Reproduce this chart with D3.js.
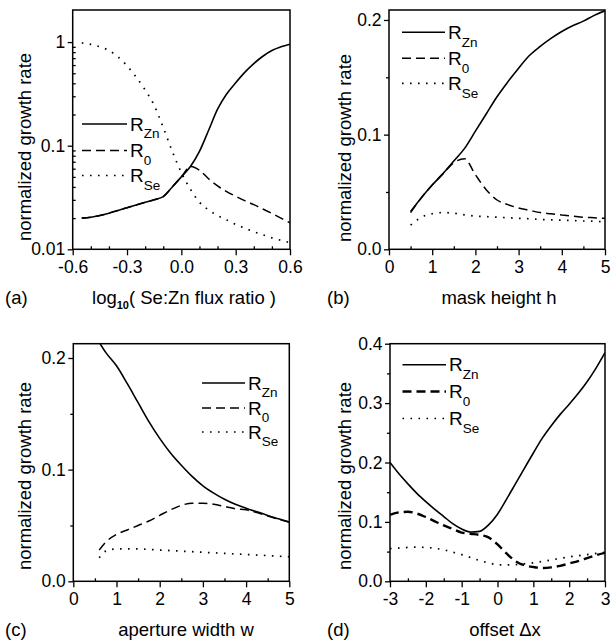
<!DOCTYPE html>
<html><head><meta charset="utf-8">
<script src="https://cdn.jsdelivr.net/npm/d3@7"></script>
<style>
body{margin:0;background:#fff}
text{font-family:Arial,"Liberation Sans",Helvetica,sans-serif;fill:#000}
</style>
</head><body>
<svg id="c" width="611" height="644"></svg>
<script>
// ---------------- data ----------------
// (a) log10(Se:Zn flux ratio)
const aX   = [-0.55,-0.5,-0.45,-0.4,-0.35,-0.3,-0.25,-0.2,-0.15,-0.1,-0.05,0,0.05,0.1,0.15,0.2,0.25,0.3,0.35,0.4,0.45,0.5,0.55,0.6];
const aZn  = [0.0200,0.0204,0.0212,0.0223,0.0237,0.0252,0.0268,0.0284,0.0301,0.0322,0.040,0.050,0.063,0.088,0.140,0.225,0.315,0.405,0.51,0.62,0.73,0.83,0.90,0.955];
const aR0  = [0.0200,0.0204,0.0212,0.0223,0.0237,0.0252,0.0268,0.0284,0.0301,0.0322,0.040,0.050,0.063,0.058,0.048,0.041,0.036,0.0325,0.0295,0.027,0.0245,0.0222,0.020,0.018];
const aSe  = [0.98,0.95,0.90,0.83,0.72,0.59,0.46,0.345,0.245,0.150,0.088,0.055,0.038,0.0285,0.0240,0.0212,0.0192,0.0174,0.0160,0.0148,0.0138,0.0129,0.0122,0.0116];
// (b) mask height h
const bX   = [0.5,0.75,1,1.25,1.5,1.75,2,2.25,2.5,2.75,3,3.25,3.5,3.75,4,4.25,4.5,4.75,5];
const bZn  = [0.033,0.045,0.056,0.066,0.077,0.088,0.103,0.118,0.133,0.146,0.158,0.169,0.177,0.184,0.190,0.195,0.199,0.204,0.208];
const bR0  = [0.032,0.045,0.056,0.066,0.0755,0.079,0.065,0.052,0.043,0.039,0.036,0.034,0.032,0.031,0.030,0.029,0.028,0.0275,0.027];
const bSe  = [0.021,0.028,0.031,0.032,0.0315,0.030,0.029,0.0285,0.028,0.0275,0.027,0.0266,0.026,0.0257,0.0254,0.025,0.0247,0.0244,0.024];
// (c) aperture width w
const cX   = [0.6,0.75,1,1.25,1.5,1.75,2,2.25,2.5,2.75,3,3.25,3.5,3.75,4,4.25,4.5,4.75,5];
const cZn  = [0.214,0.205,0.193,0.177,0.160,0.143,0.128,0.115,0.104,0.094,0.0855,0.079,0.0735,0.069,0.0655,0.0622,0.059,0.056,0.053];
const cR0  = [0.028,0.035,0.042,0.046,0.050,0.054,0.059,0.064,0.068,0.070,0.070,0.069,0.067,0.065,0.064,0.0615,0.0585,0.0555,0.053];
const cSe  = [0.021,0.027,0.029,0.029,0.029,0.0285,0.028,0.0275,0.027,0.0265,0.026,0.0255,0.025,0.0245,0.024,0.0235,0.023,0.0225,0.022];
// (d) offset Δx
const dX   = [-3,-2.75,-2.5,-2.25,-2,-1.75,-1.5,-1.25,-1,-0.75,-0.5,-0.25,0,0.25,0.5,0.75,1,1.25,1.5,1.75,2,2.25,2.5,2.75,3];
const dZn  = [0.200,0.181,0.164,0.148,0.134,0.121,0.109,0.097,0.088,0.083,0.084,0.095,0.113,0.138,0.164,0.190,0.216,0.241,0.262,0.281,0.298,0.316,0.336,0.359,0.385];
const dR0  = [0.112,0.116,0.117,0.114,0.108,0.101,0.094,0.088,0.082,0.080,0.078,0.074,0.062,0.047,0.034,0.027,0.024,0.0225,0.0235,0.026,0.030,0.034,0.039,0.044,0.048];
const dSe  = [0.055,0.056,0.057,0.0575,0.057,0.0555,0.053,0.049,0.045,0.040,0.035,0.031,0.028,0.0275,0.028,0.0295,0.031,0.0335,0.036,0.0385,0.041,0.043,0.045,0.047,0.049];

// tick labels
const aXTicks = [-0.6,-0.3,0,0.3,0.6];      const aXLabels = ["-0.6","-0.3","0.0","0.3","0.6"];
const aYTicks = [0.01,0.1,1];               const aYLabels = ["0.01","0.1","1"];
const bXTicks = [0,1,2,3,4,5];              const bXLabels = ["0","1","2","3","4","5"];
const bYTicks = [0,0.1,0.2];                const bYLabels = ["0.0","0.1","0.2"];
const dXTicks = [-3,-2,-1,0,1,2,3];         const dXLabels = ["-3","-2","-1","0","1","2","3"];
const dYTicks = [0,0.1,0.2,0.3,0.4];        const dYLabels = ["0.0","0.1","0.2","0.3","0.4"];
const seriesNames = ["Zn","0","Se"];
const panelTags = ["(a)","(b)","(c)","(d)"];

// ---------------- drawing ----------------
const svg = d3.select("#c");
const TICKF = 17.5, LABF = 18.5;

function zip(xs, ys){ return xs.map((x,i)=>[x,ys[i]]); }

function panel(o, idx){
  const [x0,y0,x1,y1] = o.box;
  const x = d3.scaleLinear().domain(o.xDomain).range([x0,x1]);
  const y = (o.log ? d3.scaleLog() : d3.scaleLinear()).domain(o.yDomain).range([y1,y0]);
  const g = svg.append("g");

  const clipId = "clip"+idx;
  svg.append("clipPath").attr("id",clipId).append("rect")
    .attr("x",x0).attr("y",y0).attr("width",x1-x0).attr("height",y1-y0);

  const line = d3.line().x(d=>x(d[0])).y(d=>y(d[1])).curve(d3.curveMonotoneX);
  const styles = [
    {dash:null, w:1.6},
    {dash:"9,5", w:o.r0w||1.5},
    {dash:"1.6,6.4", w:1.7}
  ];
  const data = [o.zn, o.r0, o.se];
  [2,1,0].forEach(k=>{
    g.append("path").attr("clip-path",`url(#${clipId})`)
      .attr("d", line(zip(o.xs, data[k])))
      .attr("fill","none").attr("stroke","#000")
      .attr("stroke-width",styles[k].w)
      .attr("stroke-dasharray",styles[k].dash);
  });

  g.append("rect").attr("x",x0).attr("y",y0).attr("width",x1-x0).attr("height",y1-y0)
    .attr("fill","none").attr("stroke","#000").attr("stroke-width",1.5);

  const xa = g.append("g").attr("transform",`translate(0,${y1})`)
    .call(d3.axisBottom(x).tickValues(o.xTicks).tickFormat((d,i)=>o.xLabels[i])
      .tickSizeInner(6).tickSizeOuter(0).tickPadding(5));
  const xm = g.append("g").attr("transform",`translate(0,${y1})`)
    .call(d3.axisBottom(x).tickValues(o.xMinor).tickFormat("").tickSizeInner(-3).tickSizeOuter(0));
  const ya = g.append("g").attr("transform",`translate(${x0},0)`)
    .call(d3.axisLeft(y).tickValues(o.yTicks).tickFormat((d,i)=>o.yLabels[i])
      .tickSizeInner(5).tickSizeOuter(0).tickPadding(2.5));
  const ym = g.append("g").attr("transform",`translate(${x0},0)`)
    .call(d3.axisLeft(y).tickValues(o.yMinor).tickFormat("").tickSizeInner(o.yMinorIn ? -3 : 3).tickSizeOuter(0));
  [xa,xm,ya,ym].forEach(s=>{
    s.select(".domain").remove();
    s.selectAll("line").attr("stroke","#000").attr("stroke-width",1.3);
    s.selectAll("text").attr("font-size",TICKF).attr("font-family",null).attr("fill","#000");
  });

  o.legendY.forEach((ly,k)=>{
    g.append("line").attr("x1",o.legendX[0]).attr("x2",o.legendX[1]).attr("y1",ly).attr("y2",ly)
      .attr("stroke","#000").attr("stroke-width",styles[k].w).attr("stroke-dasharray",styles[k].dash);
    const t = g.append("text").attr("x",o.legendX[1]+3).attr("y",ly+6.7).attr("font-size",LABF+0.5);
    t.append("tspan").text("R");
    t.append("tspan").attr("dy",7.5).attr("font-size",13.5).text(seriesNames[k]);
  });

  g.append("text").attr("transform",`translate(${o.yLabelPos[0]},${o.yLabelPos[1]}) rotate(-90)`)
    .attr("text-anchor","middle").attr("font-size",LABF).text("normalized growth rate");

  const xl = g.append("text").attr("x",o.xLabelPos[0]).attr("y",o.xLabelPos[1])
    .attr("text-anchor","middle").attr("font-size",LABF);
  o.xLabel(xl);

  g.append("text").attr("x",o.tagPos[0]).attr("y",o.tagPos[1]).attr("font-size",LABF).text(panelTags[idx]);
}

function range(a,b,s){ const r=[]; for(let v=a; v<=b+1e-9; v+=s) r.push(+v.toFixed(6)); return r; }
const logMinor = [];
[0.01,0.1].forEach(dec=>{ for(let m=2;m<=9;m++) logMinor.push(m*dec); });

panel({
  box:[72.7,10,290,249.3], xDomain:[-0.6,0.6], yDomain:[0.01,2.04], log:true,
  xs:aX, zn:aZn, r0:aR0, se:aSe,
  xTicks:aXTicks, xLabels:aXLabels, xMinor:[-0.5,-0.4,-0.2,-0.1,0.1,0.2,0.4,0.5],
  yTicks:aYTicks, yLabels:aYLabels, yMinor:logMinor, yMinorIn:true,
  legendX:[82,127], legendY:[124,150.5,175.5],
  yLabelPos:[31,147], xLabelPos:[184,304], tagPos:[5,304],
  xLabel:t=>{ t.append("tspan").text("log");
              t.append("tspan").attr("font-size",11).attr("font-weight","bold").attr("dy",5).text("10");
              t.append("tspan").attr("dy",-5).text("( Se:Zn flux ratio )"); }
},0);

panel({
  box:[389,10,605,249.3], xDomain:[0,5], yDomain:[0,0.2087],
  xs:bX, zn:bZn, r0:bR0, se:bSe,
  xTicks:bXTicks, xLabels:bXLabels, xMinor:range(0.5,4.5,1),
  yTicks:bYTicks, yLabels:bYLabels, yMinor:[0.05,0.15], yMinorIn:false,
  legendX:[402,445], legendY:[32.3,58.3,83.3],
  yLabelPos:[351,148], xLabelPos:[499,304], tagPos:[327,304],
  xLabel:t=>t.text("mask height h")
},1);

panel({
  box:[73.3,343.7,289.3,581.3], xDomain:[0,5], yDomain:[0,0.2128],
  xs:cX, zn:cZn, r0:cR0, se:cSe,
  xTicks:bXTicks, xLabels:bXLabels, xMinor:range(0.5,4.5,1),
  yTicks:bYTicks, yLabels:bYLabels, yMinor:[0.05,0.15], yMinorIn:false,
  legendX:[202,245], legendY:[383,408,432],
  yLabelPos:[31,476], xLabelPos:[186,636], tagPos:[5,636],
  xLabel:t=>t.text("aperture width w")
},2);

panel({
  box:[390,343.7,605,581.3], xDomain:[-3,3], yDomain:[0,0.4],
  xs:dX, zn:dZn, r0:dR0, se:dSe, r0w:2.4,
  xTicks:dXTicks, xLabels:dXLabels, xMinor:range(-2.5,2.5,1),
  yTicks:dYTicks, yLabels:dYLabels, yMinor:range(0.05,0.35,0.1), yMinorIn:false,
  legendX:[402.5,446], legendY:[364.7,391.5,418.5],
  yLabelPos:[351,476], xLabelPos:[505,636], tagPos:[327,636],
  xLabel:t=>t.text("offset \u0394x")
},3);
</script>
</body></html>
